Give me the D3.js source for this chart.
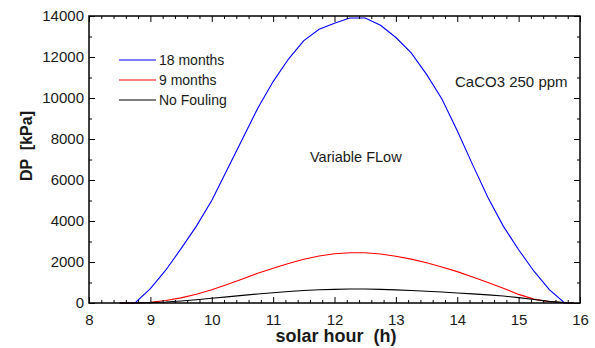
<!DOCTYPE html>
<html>
<head>
<meta charset="utf-8">
<script src="https://cdn.jsdelivr.net/npm/d3@7"></script>
<style>
  html, body { margin: 0; padding: 0; background: #fff; }
  svg text { font-family: Arial, "Liberation Sans", sans-serif; }
</style>
</head>
<body>
<div id="chart"></div>
<script>
// solar hour (h)
const hours = [8.5, 8.75, 9.0, 9.25, 9.5, 9.75, 10.0, 10.25, 10.5, 10.75, 11.0, 11.25, 11.5, 11.75,
  12.0, 12.25, 12.5, 12.75, 13.0, 13.25, 13.5, 13.75, 14.0, 14.25, 14.5, 14.75, 15.0, 15.25, 15.5, 15.75, 15.9];

// DP [kPa]
const months18 = [0, 0, 700, 1600, 2650, 3750, 5000, 6500, 8000, 9500, 10800, 11900, 12800, 13350,
  13650, 13900, 13900, 13550, 12950, 12200, 11150, 9950, 8400, 6750, 5150, 3750, 2600, 1550, 650, 0, 0];
const months9 = [0, 0, 40, 120, 250, 430, 650, 900, 1170, 1450, 1700, 1930, 2130, 2290,
  2400, 2450, 2450, 2390, 2280, 2140, 1960, 1760, 1530, 1270, 1000, 720, 420, 190, 60, 10, 0];
const noFouling = [0, 0, 20, 50, 100, 160, 230, 300, 370, 440, 500, 560, 610, 645,
  665, 680, 680, 665, 640, 610, 575, 535, 490, 445, 395, 340, 260, 170, 80, 20, 0];

const seriesNames = ["18 months", "9 months", "No Fouling"];
const seriesColors = ["#0000ff", "#ff0000", "#000000"];
const seriesValues = [months18, months9, noFouling];

const xTicks = [8, 9, 10, 11, 12, 13, 14, 15, 16];
const yTicks = [0, 2000, 4000, 6000, 8000, 10000, 12000, 14000];

const W = 595, H = 348;
const margin = { top: 16, right: 15, bottom: 45, left: 89 };
const width = W - margin.left - margin.right;
const height = H - margin.top - margin.bottom;

const svg = d3.select("#chart").append("svg")
  .attr("width", W)
  .attr("height", H);

const g = svg.append("g")
  .attr("transform", `translate(${margin.left},${margin.top})`);

const x = d3.scaleLinear().domain([8, 16]).range([0, width]);
const y = d3.scaleLinear().domain([0, 14000]).range([height, 0]);

const xMinor = d3.range(8, 16.001, 0.2).map(v => +v.toFixed(1)).filter(v => !xTicks.includes(v));
const yMinor = d3.range(1000, 14000, 2000);

// curves
const line = d3.line()
  .x(d => x(d[0]))
  .y(d => y(d[1]));

seriesValues.forEach((vals, i) => {
  g.append("path")
    .datum(hours.map((h, k) => [h, vals[k]]))
    .attr("fill", "none")
    .attr("stroke", seriesColors[i])
    .attr("stroke-width", 1.1)
    .attr("d", line);
});

// ticks (inward, on all four sides)
function addTicks(axisFn, scale, values, size, transform) {
  g.append("g")
    .attr("transform", transform)
    .call(axisFn(scale).tickValues(values).tickSize(size).tickFormat(""))
    .call(s => s.select(".domain").remove())
    .selectAll("line").attr("stroke", "#000").attr("stroke-width", 1);
}
addTicks(d3.axisTop, x, xTicks, 6, `translate(0,${height})`);
addTicks(d3.axisTop, x, xMinor, 3, `translate(0,${height})`);
addTicks(d3.axisBottom, x, xTicks, 6, `translate(0,0)`);
addTicks(d3.axisBottom, x, xMinor, 3, `translate(0,0)`);
addTicks(d3.axisRight, y, yTicks, 6, `translate(0,0)`);
addTicks(d3.axisRight, y, yMinor, 3, `translate(0,0)`);
addTicks(d3.axisLeft, y, yTicks, 6, `translate(${width},0)`);
addTicks(d3.axisLeft, y, yMinor, 3, `translate(${width},0)`);

// frame
g.append("rect")
  .attr("width", width)
  .attr("height", height)
  .attr("fill", "none")
  .attr("stroke", "#000")
  .attr("stroke-width", 1.5);

// tick labels
g.append("g")
  .attr("transform", `translate(0,${height})`)
  .call(d3.axisBottom(x).tickValues(xTicks).tickSize(0).tickPadding(11).tickFormat(d3.format("d")))
  .call(s => s.select(".domain").remove())
  .selectAll("text")
  .attr("font-size", 15)
  .attr("font-family", "Arial, 'Liberation Sans', sans-serif")
  .attr("fill", "#1a1a1a");

g.append("g")
  .call(d3.axisLeft(y).tickValues(yTicks).tickSize(0).tickPadding(5).tickFormat(d3.format("d")))
  .call(s => s.select(".domain").remove())
  .selectAll("text")
  .attr("font-size", 15)
  .attr("font-family", "Arial, 'Liberation Sans', sans-serif")
  .attr("fill", "#1a1a1a");

// axis titles
svg.append("text")
  .attr("x", 336)
  .attr("y", 342)
  .attr("text-anchor", "middle")
  .attr("font-size", 18)
  .attr("font-weight", "bold")
  .attr("fill", "#1a1a1a")
  .attr("xml:space", "preserve")
  .text("solar hour  (h)");

svg.append("text")
  .attr("transform", "translate(32,146) rotate(-90)")
  .attr("text-anchor", "middle")
  .attr("font-size", 16)
  .attr("font-weight", "bold")
  .attr("fill", "#1a1a1a")
  .attr("xml:space", "preserve")
  .text("DP  [kPa]");

// legend
const legend = svg.append("g");
seriesNames.forEach((name, i) => {
  const ly = 60 + i * 20;
  legend.append("line")
    .attr("x1", 119).attr("x2", 156)
    .attr("y1", ly).attr("y2", ly)
    .attr("stroke", seriesColors[i])
    .attr("stroke-width", 1.1);
  legend.append("text")
    .attr("x", 159)
    .attr("y", ly + 5)
    .attr("font-size", 14)
    .attr("fill", "#1a1a1a")
    .text(name);
});

// annotations
svg.append("text")
  .attr("x", 455).attr("y", 87)
  .attr("font-size", 15)
  .attr("fill", "#1a1a1a")
  .text("CaCO3 250 ppm");

svg.append("text")
  .attr("x", 310).attr("y", 162)
  .attr("font-size", 14.5)
  .attr("fill", "#1a1a1a")
  .text("Variable FLow");
</script>
</body>
</html>
